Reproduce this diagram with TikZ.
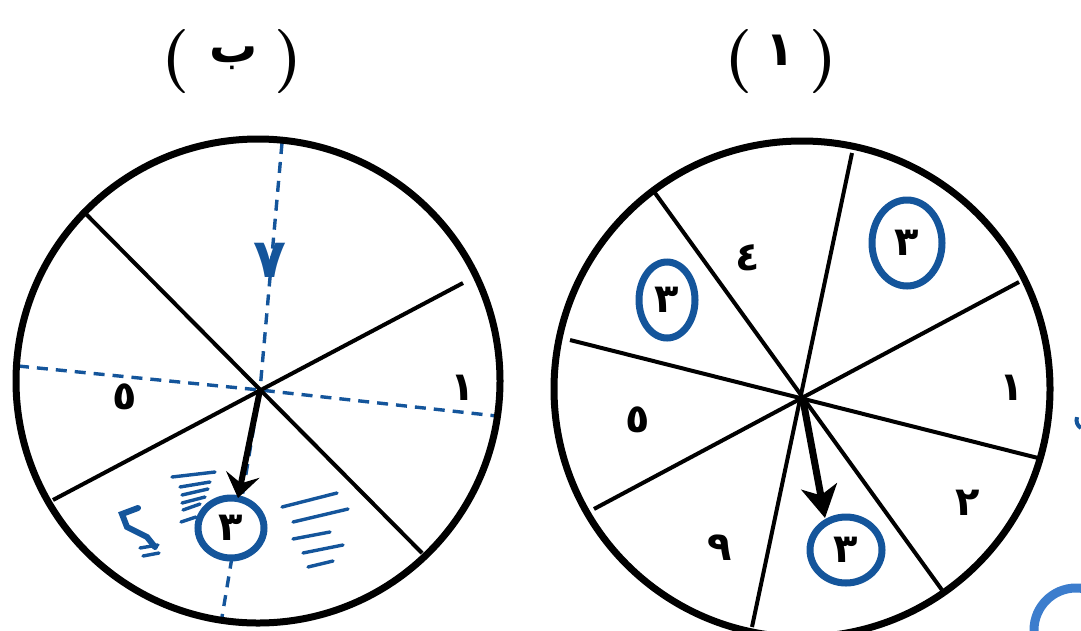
\documentclass[tikz,border=0pt]{standalone}
\usepackage{fontspec}
\newfontfamily\arabicfont[Script=Arabic]{DejaVu Sans}
\TeXXeTstate=1
\usetikzlibrary{positioning,shapes.geometric,arrows.meta}
\definecolor{penblue}{RGB}{20,85,155}
\definecolor{lightblue}{RGB}{60,125,205}
\tikzset{every picture/.style={line width=0.75pt}}

\begin{document}
\begin{tikzpicture}[x=1pt, y=-1pt, >={Stealth[length=32pt, width=36pt, inset=9pt]},
        every node/.style={font=\arabicfont\bfseries\fontsize{40}{44}\selectfont, inner sep=0pt},
        rim/.style={line width=7pt},
        spoke/.style={line width=4pt},
        pointer/.style={->, line width=6pt},
        guide/.style={penblue, line width=3.4pt, dash pattern=on 11pt off 8pt},
        ring/.style={ellipse, draw=penblue, fill=white, line width=7pt},
        hatch/.style={penblue, line width=3.4pt, line cap=round},
        paren/.style={font=\bfseries\fontsize{64}{70}\selectfont}]
        \useasboundingbox (0,0) rectangle (1081,630);
        \node[paren] (lopen) at (176,62) {(};
        \node[font=\arabicfont\bfseries\fontsize{48}{52}\selectfont] (ltitle) at (234,58) {\beginR ب\endR};
        \node[paren] (lclose) at (289,62) {)};
        \node[paren] (ropen) at (739,62) {(};
        \node[font=\arabicfont\bfseries\fontsize{48}{52}\selectfont] (rtitle) at (780,50) {١};
        \node[paren] (rclose) at (824,62) {)};
        \coordinate (lc) at (260,390);
        \coordinate (la1) at (82,210);
        \coordinate (la2) at (422,553);
        \coordinate (lb1) at (463,283);
        \coordinate (lb2) at (53,500);
        \coordinate (lvt) at (282,143);
        \coordinate (lvb) at (221,623);
        \coordinate (lhl) at (18,366);
        \coordinate (lhr) at (497,416);
        \coordinate (ltip) at (238,498);
        \draw[guide] (lvt) -- (lc) -- (lvb);
        \draw[guide] (lhl) -- (lc) -- (lhr);
        \draw[rim] (258,381) circle[radius=242];
        \draw[spoke] (la1) -- (la2);
        \draw[spoke] (lb1) -- (lb2);
        \node[ring, minimum width=66pt, minimum height=60pt] (lthree) at (231,528) {٣};
        \draw[pointer, >={Stealth[length=24pt, width=34pt, inset=9pt]}] (lc) -- (ltip);
        \node[text=penblue, font=\arabicfont\bfseries\fontsize{54}{58}\selectfont] (lseven) at (270,260) {٧};
        \node (lfive) at (125,397) {٥};
        \node (lone) at (463,388) {١};
        \foreach \a/\b in {{(172,477)/(215,472)}, {(180,487)/(210,482)}, {(182,495)/(208,489)}, {(182,503)/(205,497)}, {(183,510)/(200,504)}, {(181,522)/(196,517)}}
            \draw[hatch] \a -- \b;
        \foreach \a/\b in {{(282,507)/(337,493)}, {(293,522)/(348,509)}, {(293,539)/(330,532)}, {(303,553)/(343,545)}, {(308,567)/(333,561)}}
            \draw[hatch] \a -- \b;
        \draw[hatch, line width=6pt] (138,508) -- (122,514) -- (127,527) -- (147,537) -- (155,547);
        \draw[hatch] (140,548) -- (158,545);
        \draw[hatch] (143,556) -- (159,553);
        \coordinate (rc) at (803,400);
        \coordinate (ra1) at (852,153);
        \coordinate (ra2) at (752,627);
        \coordinate (rb1) at (655,193);
        \coordinate (rb2) at (942,590);
        \coordinate (rd1) at (1019,282);
        \coordinate (rd2) at (594,509);
        \coordinate (re1) at (570,340);
        \coordinate (re2) at (1042,459);
        \coordinate (rtip) at (825,518);
        \draw[rim] (802,389) circle[radius=248];
        \draw[spoke] (ra1) -- (ra2);
        \draw[spoke] (rb1) -- (rb2);
        \draw[spoke] (rd1) -- (rd2);
        \draw[spoke] (re1) -- (re2);
        \draw[pointer, line width=7pt] (rc) -- (rtip);
        \node (rfour) at (748,258) {٤};
        \node[ring, minimum width=56pt, minimum height=76pt] (rthreea) at (667,300) {٣};
        \node[ring, minimum width=70pt, minimum height=86pt] (rthreeb) at (907,243) {٣};
        \node[ring, minimum width=72pt, minimum height=66pt] (rthreec) at (846,550) {٣};
        \node (rone) at (1012,388) {١};
        \node (rfive) at (638,420) {٥};
        \node (rtwo) at (968,503) {٢};
        \node (rnine) at (720,548) {٩};
        \draw[lightblue, line width=9pt] (1076,630) circle[radius=42];
        \draw[penblue, line width=4pt] (1081,428) arc[start angle=120, end angle=200, radius=9];
\end{tikzpicture}
\end{document}
